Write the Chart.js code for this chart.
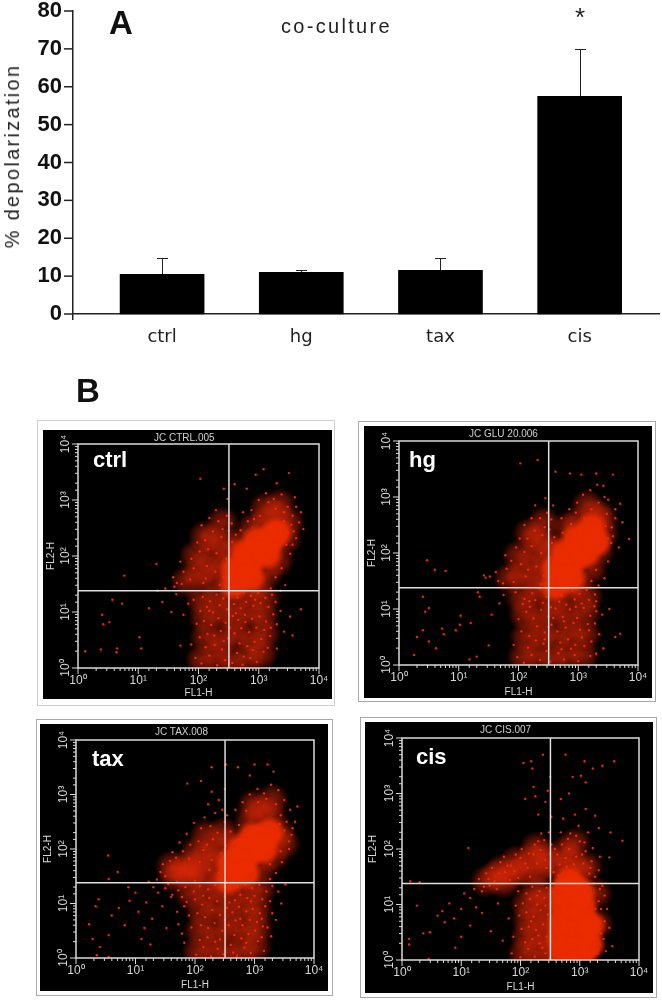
<!DOCTYPE html>
<html>
<head>
<meta charset="utf-8">
<script src="https://cdn.jsdelivr.net/npm/chart.js@4"></script>
<style>
  html, body { margin: 0; background: #fff; }
  #page { position: relative; width: 662px; height: 1001px; overflow: hidden; font-family: "Liberation Sans", sans-serif; }
  #page canvas, .txt, .frame { position: absolute; }
  .txt { white-space: nowrap; line-height: 1; }
  .frame { box-sizing: border-box; border: 1px solid #a8a8a8; }
</style>
</head>
<body>
<div id="page">
  <canvas id="barChart" width="662" height="400" style="left:0;top:0"></canvas>
  <div class="txt" style="left:109px;top:6px;font-size:33px;font-weight:bold;color:#111">A</div>
  <div class="txt" style="left:281px;top:16px;font-size:20px;letter-spacing:2.3px;color:#222">co-culture</div>
  <div class="txt" style="left:575px;top:4px;font-size:26px;color:#222">*</div>
  <div class="txt" style="left:76px;top:374px;font-size:33px;font-weight:bold;color:#111">B</div>
  <div class="txt" style="left:12px;top:156px;font-size:20px;letter-spacing:2.3px;color:#222;transform:translate(-50%,-50%) rotate(-90deg)">% depolarization</div>
</div>
<script>
// --- panel A ---
const categories = ['ctrl', 'hg', 'tax', 'cis'];
const depolarization = [10.5, 11, 11.5, 57.5];
const errorTop = [14.8, 11.5, 14.8, 70];
const yTicksA = [0, 10, 20, 30, 40, 50, 60, 70, 80];

// --- panel B, all pairs are [log10 FL1-H, log10 FL2-H] ---
const decadeLabels = { 1: '10⁰', 10: '10¹', 100: '10²', 1000: '10³', 10000: '10⁴' };
const gateFL1 = 320;
const gateFL2 = 24;

const ctrlCore = [[2.6,1.5],[2.7,1.68],[2.82,1.85],[2.92,2.0],[3.02,2.12],[3.12,2.22],[3.22,2.33],[3.3,2.42],[2.6,1.76],[2.78,2.04],[2.97,2.26],[3.14,2.04],[2.86,1.62]];
const ctrlHaze = [[2.05,0.15],[2.31,0.22],[2.55,0.12],[2.82,0.18],[3.05,0.25],[2.12,0.55],[2.38,0.5],[2.62,0.58],[2.88,0.5],[3.1,0.6],[2.1,0.9],[2.35,0.95],[2.6,0.88],[2.85,0.96],[3.08,0.92],[2.05,1.22],[2.32,1.25],[2.58,1.2],[2.85,1.28],[3.1,1.25],[1.8,1.55],[2.0,1.7],[2.2,1.6],[1.95,2.0],[2.2,1.95],[2.4,1.8],[2.25,2.3],[2.45,2.2],[2.4,2.6],[2.1,2.35],[2.52,1.5],[3.3,2.72],[3.5,2.6],[3.1,2.6],[2.9,2.5],[3.45,2.3],[3.1,2.85],[3.35,2.92],[2.72,2.25],[3.32,1.92],[2.58,2.02],[3.15,1.7],[2.95,1.5]];
const ctrlSpeck = [[2.05,0.08],[2.18,0.22],[2.31,0.05],[2.44,0.14],[2.12,0.37],[2.27,0.41],[2.39,0.33],[2.56,0.09],[2.64,0.27],[2.73,0.06],[2.86,0.18],[2.97,0.11],[3.08,0.29],[2.68,0.44],[2.81,0.39],[2.93,0.47],[3.04,0.52],[3.15,0.36],[2.02,0.55],[2.15,0.61],[2.26,0.58],[2.37,0.66],[2.49,0.53],[2.6,0.62],[2.71,0.71],[2.84,0.64],[2.96,0.72],[3.09,0.68],[3.19,0.57],[1.97,0.79],[2.09,0.84],[2.21,0.77],[2.33,0.89],[2.45,0.81],[2.57,0.93],[2.66,0.86],[2.77,0.95],[2.89,0.88],[3.01,0.92],[3.12,0.83],[3.24,0.96],[2.03,1.02],[2.14,1.09],[2.24,0.99],[2.35,1.12],[2.48,1.05],[2.59,1.14],[2.7,1.07],[2.79,1.18],[2.91,1.11],[3.03,1.16],[3.16,1.09],[1.92,1.22],[2.07,1.27],[2.19,1.19],[2.3,1.31],[2.41,1.24],[2.53,1.33],[2.65,1.26],[2.75,1.35],[2.87,1.29],[2.99,1.34],[3.11,1.25],[3.22,1.31],[1.45,1.42],[1.6,1.45],[1.72,1.5],[1.58,1.62],[1.86,1.58],[1.75,1.72],[1.92,1.78],[2.08,1.52],[2.14,1.82],[2.28,1.72],[2.42,1.62],[1.88,1.95],[2.02,2.08],[2.16,2.12],[2.3,2.05],[2.46,1.95],[2.11,2.28],[2.24,2.44],[2.38,2.34],[2.5,2.45],[2.33,2.62],[2.47,2.72],[2.55,2.58],[2.29,2.82],[2.48,3.02],[2.03,3.38],[2.42,3.2],[2.6,3.28],[2.74,2.78],[2.88,2.82],[3.0,3.0],[3.12,3.12],[3.25,3.02],[3.38,3.1],[3.48,2.88],[3.56,2.72],[3.67,2.6],[3.58,2.44],[3.7,2.78],[3.46,2.2],[3.52,2.04],[3.38,1.78],[3.44,1.48],[3.28,1.62],[3.2,1.42],[2.95,3.45],[3.08,3.55],[3.5,3.48],[2.8,3.2],[3.3,3.3],[3.6,3.05],[3.7,1.05],[3.52,0.92],[3.42,0.65],[3.3,0.35],[3.56,0.58],[0.4,0.95],[0.42,0.78],[0.52,0.82],[0.57,1.22],[0.73,1.15],[0.38,0.33],[0.65,0.35],[0.64,0.28],[1.02,0.55],[1.05,0.35],[1.18,1.07],[1.32,1.38],[1.4,1.18],[1.55,1.0],[1.63,1.32],[1.75,0.95],[1.83,1.15],[1.7,0.4],[0.77,1.65],[1.3,1.86],[0.12,0.3],[3.62,2.32],[3.74,2.48],[3.42,2.62],[3.28,2.84],[3.16,2.96],[3.02,2.72],[2.92,2.66],[3.42,2.78],[3.54,2.56],[3.62,2.88],[2.7,2.46],[2.82,2.62],[3.48,2.42],[3.56,2.2],[2.62,2.38],[1.7,1.9],[1.98,2.24],[2.05,2.55],[2.18,2.68],[2.4,2.48],[1.64,1.52],[2.35,1.48],[2.12,1.6],[2.5,1.72],[2.56,2.25],[3.36,1.38],[3.28,1.18],[3.36,1.02],[3.3,0.78],[1.88,0.42],[1.95,0.18],[2.42,0.48],[2.75,0.2],[2.9,0.32],[3.2,0.72],[2.52,0.72],[2.78,0.82],[2.18,1.02],[2.62,0.98],[2.94,1.22]];

const hgCore = [[2.62,1.42],[2.72,1.58],[2.82,1.75],[2.95,1.92],[3.05,2.08],[3.15,2.28],[3.22,2.45],[2.62,1.72],[2.78,2.0],[2.96,2.25],[3.12,2.0],[2.88,1.55],[3.3,2.2]];
const hgHaze = [[2.08,0.14],[2.33,0.2],[2.58,0.1],[2.82,0.2],[3.08,0.18],[2.12,0.5],[2.38,0.55],[2.62,0.5],[2.88,0.56],[3.12,0.55],[2.1,0.9],[2.35,0.85],[2.6,0.92],[2.85,0.88],[3.12,0.94],[2.05,1.2],[2.3,1.26],[2.58,1.18],[2.85,1.26],[3.15,1.22],[1.85,1.55],[2.05,1.62],[2.28,1.55],[2.0,1.95],[2.25,1.92],[2.45,1.78],[2.3,2.25],[2.48,2.15],[2.42,2.55],[2.18,2.35],[2.5,1.45],[3.3,2.7],[3.15,2.85],[3.42,2.35],[3.0,2.55],[2.82,2.45],[3.35,2.05],[3.22,1.72],[2.98,1.45],[3.4,2.62],[2.6,2.05]];
const hgSpeck = [[2.09,0.04],[2.22,0.18],[2.36,0.09],[2.47,0.25],[2.16,0.31],[2.29,0.44],[2.42,0.38],[2.53,0.06],[2.67,0.21],[2.76,0.1],[2.88,0.29],[3.0,0.07],[3.1,0.34],[3.2,0.16],[2.7,0.4],[2.83,0.46],[2.95,0.36],[3.06,0.49],[3.22,0.42],[2.05,0.6],[2.18,0.52],[2.31,0.69],[2.44,0.58],[2.55,0.72],[2.65,0.6],[2.79,0.67],[2.92,0.75],[3.03,0.63],[3.16,0.73],[2.0,0.82],[2.13,0.95],[2.25,0.83],[2.38,0.98],[2.5,0.87],[2.62,1.01],[2.74,0.86],[2.86,0.99],[2.98,0.84],[3.09,1.02],[3.2,0.88],[3.27,1.05],[2.07,1.09],[2.19,1.04],[2.28,1.16],[2.41,1.11],[2.54,1.03],[2.68,1.13],[2.8,1.08],[2.94,1.17],[3.06,1.1],[3.18,1.16],[1.95,1.3],[2.1,1.18],[2.23,1.28],[2.35,1.36],[2.47,1.22],[2.6,1.3],[2.72,1.24],[2.9,1.33],[3.02,1.27],[3.14,1.34],[3.28,1.26],[1.45,1.56],[1.42,1.6],[1.52,1.58],[1.62,1.66],[1.74,1.46],[1.8,1.72],[1.92,1.48],[1.88,1.86],[2.04,1.8],[2.16,1.7],[2.3,1.76],[2.42,1.6],[1.96,2.1],[2.1,2.02],[2.22,2.12],[2.38,2.0],[2.52,1.92],[2.15,2.26],[2.27,2.4],[2.4,2.32],[2.52,2.42],[2.36,2.62],[2.48,2.72],[2.55,2.6],[2.28,2.85],[2.45,2.98],[2.03,3.6],[2.32,3.66],[2.58,2.85],[2.72,2.62],[2.85,2.78],[2.98,2.9],[3.08,3.04],[3.2,3.12],[3.32,3.22],[3.42,3.2],[3.5,2.95],[3.62,2.78],[3.7,2.88],[3.74,2.55],[3.85,2.25],[3.68,2.1],[3.55,2.18],[3.5,1.85],[3.44,1.55],[3.3,1.7],[3.22,1.5],[2.62,3.45],[2.86,3.42],[3.05,3.4],[3.3,3.42],[3.58,3.4],[3.35,0.55],[3.4,0.9],[3.52,1.0],[3.62,0.5],[3.7,0.56],[3.3,0.2],[3.42,0.3],[0.25,0.18],[0.3,0.5],[0.4,0.62],[0.44,0.95],[0.5,1.02],[0.5,0.42],[0.62,0.3],[0.72,0.65],[0.75,0.55],[0.95,0.62],[1.02,0.72],[1.03,0.88],[1.2,0.75],[1.18,0.1],[1.3,0.15],[1.35,1.22],[1.32,1.3],[1.55,0.9],[1.68,1.1],[1.75,1.25],[1.5,0.35],[0.47,1.87],[0.6,1.7],[0.78,1.68],[0.4,1.22],[3.56,2.46],[3.62,2.62],[3.48,2.7],[3.34,2.9],[3.22,2.78],[3.1,2.62],[2.96,2.72],[3.46,2.48],[3.58,2.3],[3.44,3.0],[2.74,2.36],[2.88,2.52],[3.5,2.26],[3.42,2.08],[2.6,2.28],[1.78,1.96],[2.02,2.26],[2.1,2.5],[2.22,2.62],[2.44,2.46],[1.66,1.5],[2.38,1.44],[2.12,1.58],[2.5,1.68],[2.56,2.18],[3.34,1.42],[3.3,1.14],[3.3,0.96],[3.28,0.74],[1.92,0.36],[1.98,0.14],[2.44,0.46],[2.72,0.28],[2.94,0.18],[3.18,0.62],[2.5,0.68],[2.76,0.78],[2.18,1.14],[2.58,0.84],[2.96,1.04]];

const taxCore = [[2.58,1.45],[2.68,1.62],[2.8,1.78],[2.92,1.95],[3.02,2.08],[3.12,2.2],[3.25,2.3],[2.6,1.75],[2.78,2.0],[2.96,2.22],[3.15,2.0],[2.85,1.55]];
const taxHaze = [[2.05,0.12],[2.3,0.16],[2.55,0.1],[2.8,0.14],[3.02,0.2],[2.08,0.5],[2.35,0.48],[2.6,0.52],[2.85,0.5],[3.05,0.55],[2.1,0.85],[2.35,0.9],[2.58,0.82],[2.85,0.9],[3.05,0.88],[1.92,1.18],[2.18,1.2],[2.42,1.28],[2.62,1.15],[2.88,1.24],[3.1,1.25],[1.65,1.48],[1.78,1.58],[1.92,1.52],[1.85,1.7],[2.02,1.66],[2.12,1.5],[1.6,1.68],[2.2,1.85],[2.02,1.95],[2.38,1.7],[2.35,2.02],[2.18,2.25],[2.48,2.3],[2.45,1.45],[3.42,2.3],[3.28,2.6],[3.1,2.7],[2.92,2.5],[3.5,2.1],[3.32,1.88],[3.12,1.66],[2.98,2.8],[2.62,2.1],[3.3,2.9]];
const taxSpeck = [[2.02,0.06],[2.14,0.2],[2.27,0.03],[2.38,0.17],[2.08,0.33],[2.21,0.38],[2.34,0.3],[2.48,0.07],[2.6,0.24],[2.71,0.04],[2.83,0.19],[2.94,0.09],[3.06,0.31],[3.16,0.13],[2.66,0.42],[2.78,0.36],[2.9,0.44],[3.01,0.5],[3.12,0.38],[1.94,0.56],[2.1,0.6],[2.22,0.55],[2.33,0.64],[2.46,0.5],[2.57,0.6],[2.68,0.69],[2.8,0.6],[2.92,0.7],[3.04,0.66],[3.14,0.58],[1.9,0.78],[2.04,0.82],[2.17,0.75],[2.29,0.88],[2.42,0.79],[2.54,0.92],[2.63,0.84],[2.74,0.94],[2.86,0.86],[2.97,0.9],[3.09,0.82],[3.18,0.95],[1.86,1.03],[2.0,1.08],[2.12,0.98],[2.24,1.1],[2.37,1.04],[2.5,1.13],[2.67,1.06],[2.76,1.16],[2.88,1.1],[3.0,1.14],[3.13,1.08],[1.72,1.24],[1.84,1.3],[1.98,1.22],[2.08,1.32],[2.22,1.26],[2.34,1.34],[2.5,1.24],[2.72,1.3],[2.84,1.35],[2.96,1.28],[3.08,1.34],[3.2,1.22],[1.36,1.44],[1.42,1.58],[1.5,1.5],[1.55,1.36],[1.58,1.78],[1.68,1.84],[1.7,1.4],[1.8,1.96],[1.9,1.82],[2.0,1.42],[2.08,1.76],[2.14,1.98],[2.24,1.62],[2.28,1.8],[2.4,1.56],[1.92,2.08],[2.06,2.14],[2.2,2.08],[2.3,2.18],[2.44,1.92],[2.52,2.06],[2.1,2.38],[2.26,2.42],[2.38,2.3],[2.5,2.5],[2.34,2.66],[2.46,2.72],[2.54,2.62],[2.22,2.82],[2.4,2.9],[1.87,3.2],[2.1,3.25],[2.28,3.05],[2.5,3.1],[2.28,3.5],[2.52,3.55],[2.68,2.72],[2.8,2.86],[2.92,3.0],[3.05,3.1],[3.16,3.02],[3.28,3.18],[3.4,3.08],[3.5,2.9],[3.6,2.72],[3.68,2.5],[3.72,2.78],[3.62,2.26],[3.58,2.0],[3.46,1.76],[3.36,1.56],[3.26,1.45],[2.72,3.5],[2.92,3.35],[3.0,3.55],[3.22,3.55],[3.32,3.42],[3.45,1.0],[3.36,0.7],[3.28,0.4],[3.4,1.22],[3.52,1.35],[0.33,0.95],[0.38,1.08],[0.22,0.62],[0.28,0.35],[0.4,0.2],[0.55,0.42],[0.6,0.78],[0.72,0.92],[0.82,0.6],[0.9,1.05],[1.05,0.85],[1.1,0.35],[1.18,1.02],[1.28,0.72],[1.38,1.2],[1.45,0.95],[1.52,0.55],[1.6,1.12],[1.7,0.85],[1.78,0.45],[1.82,0.95],[1.3,1.3],[1.22,1.4],[1.15,0.55],[0.55,1.45],[0.7,1.58],[0.54,1.88],[0.88,1.3],[1.0,1.2],[0.35,0.05],[0.55,0.02],[1.25,0.25],[3.54,2.5],[3.64,2.38],[3.44,2.62],[3.36,2.82],[3.2,2.92],[3.06,2.86],[2.86,2.7],[3.5,2.34],[3.42,2.46],[3.58,2.14],[2.74,2.44],[2.6,2.32],[3.44,1.96],[3.26,1.72],[1.46,1.72],[1.62,1.94],[1.74,2.12],[1.86,2.28],[1.98,2.48],[2.16,2.58],[1.5,1.28],[1.62,1.16],[1.78,1.12],[2.44,1.44],[2.56,1.96],[3.3,1.32],[3.26,1.04],[3.3,0.82],[3.22,0.56],[1.72,0.62],[1.82,0.28],[2.42,0.34],[2.64,0.1],[2.86,0.28],[3.12,0.72],[2.5,0.7],[2.76,0.72],[2.14,1.14],[2.58,1.02],[2.94,1.04]];

const cisCore = [[2.72,0.12],[2.9,0.1],[3.05,0.15],[2.68,0.38],[2.86,0.42],[3.04,0.4],[2.7,0.68],[2.88,0.7],[3.06,0.66],[2.72,0.98],[2.9,1.0],[3.05,0.95],[2.72,1.24],[2.9,1.28],[3.02,1.22],[3.17,0.28],[3.18,0.62],[2.82,1.42]];
const cisHaze = [[2.05,0.12],[2.28,0.15],[2.5,0.1],[2.1,0.42],[2.32,0.46],[2.52,0.38],[2.12,0.72],[2.35,0.76],[2.55,0.7],[2.1,1.0],[2.35,1.05],[2.52,1.12],[2.25,1.25],[1.42,1.42],[1.58,1.52],[1.72,1.4],[1.68,1.62],[1.88,1.55],[2.05,1.62],[1.92,1.78],[2.18,1.82],[2.32,1.58],[2.4,1.88],[2.26,2.02],[2.5,1.75],[2.72,1.62],[2.85,1.8],[3.0,1.6],[2.74,1.95],[2.92,2.1],[3.12,1.68],[3.28,1.2],[3.3,0.65]];
const cisSpeck = [[2.0,0.05],[2.13,0.2],[2.24,0.06],[2.37,0.22],[2.49,0.04],[2.08,0.32],[2.2,0.38],[2.32,0.3],[2.44,0.42],[2.56,0.2],[2.02,0.56],[2.14,0.6],[2.26,0.54],[2.38,0.64],[2.5,0.52],[2.58,0.66],[1.98,0.8],[2.1,0.86],[2.22,0.78],[2.34,0.9],[2.46,0.82],[2.56,0.94],[2.04,1.02],[2.16,1.1],[2.28,1.0],[2.4,1.12],[2.52,1.04],[1.96,1.24],[2.1,1.2],[2.2,1.32],[2.32,1.24],[2.44,1.3],[2.55,1.22],[3.22,0.12],[3.3,0.3],[3.36,0.48],[3.28,0.76],[3.36,0.92],[3.42,0.7],[3.32,1.06],[3.34,1.28],[3.42,1.16],[3.5,0.58],[3.55,0.25],[3.44,0.16],[3.38,1.34],[1.22,1.28],[1.3,1.46],[1.35,1.24],[1.42,1.56],[1.48,1.34],[1.52,1.66],[1.6,1.28],[1.66,1.76],[1.74,1.58],[1.72,1.86],[1.82,1.44],[1.84,1.7],[1.92,1.9],[1.96,1.48],[2.02,2.0],[2.08,1.74],[2.14,1.92],[2.16,1.5],[2.24,2.08],[2.28,1.74],[2.34,1.98],[2.4,2.16],[2.44,1.66],[2.5,1.92],[2.52,2.08],[2.35,2.28],[2.48,2.3],[2.56,1.58],[2.64,1.52],[2.66,1.72],[2.62,1.9],[2.7,2.08],[2.78,1.68],[2.82,2.0],[2.88,1.56],[2.94,1.86],[3.0,2.14],[3.06,1.74],[3.1,1.96],[3.16,1.56],[3.2,1.78],[3.26,1.5],[3.32,1.62],[2.68,2.3],[2.84,2.28],[2.98,2.42],[3.14,2.3],[2.72,2.55],[2.92,2.62],[3.1,2.72],[3.26,2.6],[3.32,2.38],[3.52,2.3],[3.72,2.15],[3.5,1.85],[2.68,2.9],[2.82,3.0],[3.1,3.2],[2.88,3.3],[3.02,3.32],[3.22,3.45],[3.38,3.5],[3.58,3.58],[2.76,3.7],[3.08,3.58],[2.52,2.58],[2.42,2.85],[2.3,2.62],[2.25,2.95],[2.22,3.12],[2.05,3.55],[2.18,3.58],[2.38,3.7],[2.08,2.9],[2.2,3.45],[2.5,3.3],[2.46,3.05],[0.25,0.98],[0.36,0.48],[0.47,0.5],[0.6,0.8],[0.68,0.88],[0.72,0.68],[0.8,1.02],[0.88,0.75],[1.0,0.92],[1.05,1.2],[1.15,0.62],[1.25,0.95],[1.35,0.85],[1.5,0.52],[1.62,1.02],[1.7,0.35],[1.8,0.75],[0.12,0.28],[0.12,0.38],[0.45,0.02],[1.0,0.42],[0.9,0.22],[1.12,2.02],[0.14,1.42],[0.3,1.4],[1.85,0.12],[1.15,1.12],[3.24,0.44],[3.26,0.92],[3.24,1.38],[3.46,0.92],[3.3,0.12],[3.4,0.38],[1.38,1.32],[1.46,1.46],[1.56,1.42],[1.64,1.56],[1.78,1.7],[1.9,1.6],[2.0,1.84],[2.12,1.66],[2.22,1.9],[2.3,2.14],[2.42,1.8],[2.58,2.0],[2.76,1.84],[2.9,1.72],[3.04,1.9],[3.18,1.66],[2.8,2.18],[2.94,2.24],[3.08,2.12],[3.22,2.02],[3.34,1.86],[1.88,0.42],[1.92,0.98],[2.42,0.12],[2.3,0.44],[2.18,0.7],[2.42,0.98],[2.28,1.16],[2.52,0.78],[2.58,0.3]];

const panelLayout = [
  { id: 'ctrl', title: 'JC CTRL.005', label: 'ctrl', core: ctrlCore, haze: ctrlHaze, speck: ctrlSpeck,
    black: [43, 430, 289, 269], plot: [78, 444, 241, 224], frame: [37, 420, 298, 286], frameColor: '#cfcfcf', titleX: 154, labelAt: [93, 449] },
  { id: 'hg', title: 'JC GLU 20.006', label: 'hg', core: hgCore, haze: hgHaze, speck: hgSpeck,
    black: [364, 426, 288, 272], plot: [399, 441, 239, 224], frame: [358, 421, 298, 281], frameColor: '#a8a8a8', titleX: 469, labelAt: [409, 449] },
  { id: 'tax', title: 'JC TAX.008', label: 'tax', core: taxCore, haze: taxHaze, speck: taxSpeck,
    black: [40, 724, 288, 267], plot: [76, 740, 238, 218], frame: [36, 719, 297, 277], frameColor: '#a8a8a8', titleX: 155, labelAt: [92, 748] },
  { id: 'cis', title: 'JC CIS.007', label: 'cis', core: cisCore, haze: cisHaze, speck: cisSpeck,
    black: [365, 722, 288, 271], plot: [402, 738, 237, 222], frame: [360, 717, 297, 281], frameColor: '#a8a8a8', titleX: 480, labelAt: [416, 746] }
];

const fromLog = pairs => pairs.map(p => ({ x: 10 ** p[0], y: 10 ** p[1] }));

// soft round point sprite, so that the dense regions have no hard disc edges
function softDot(radius, stops) {
  const c = document.createElement('canvas');
  c.width = c.height = radius * 2;
  const g = c.getContext('2d');
  const grad = g.createRadialGradient(radius, radius, 0, radius, radius, radius);
  stops.forEach(s => grad.addColorStop(s[0], s[1]));
  g.fillStyle = grad;
  g.fillRect(0, 0, radius * 2, radius * 2);
  return c;
}
const hazeDot = softDot(17, [[0, 'rgba(225,42,10,0.6)'], [0.55, 'rgba(225,42,10,0.36)'], [1, 'rgba(225,42,10,0)']]);
const coreDot = softDot(17, [[0, 'rgba(234,44,0,1)'], [0.6, 'rgba(234,44,0,0.95)'], [1, 'rgba(234,44,0,0)']]);

// error bars: only the upper half, like the figure
const errorBarPlugin = {
  id: 'errorBars',
  afterDatasetsDraw(chart) {
    const { ctx, scales } = chart;
    ctx.save();
    ctx.strokeStyle = '#222';
    ctx.lineWidth = 1;
    errorTop.forEach((top, i) => {
      const px = Math.round(scales.x.getPixelForValue(i)) + 0.5;
      const base = scales.y.getPixelForValue(depolarization[i]);
      const end = Math.round(scales.y.getPixelForValue(top)) + 0.5;
      ctx.beginPath();
      ctx.moveTo(px, base);
      ctx.lineTo(px, end);
      ctx.moveTo(px - 5.5, end);
      ctx.lineTo(px + 5.5, end);
      ctx.stroke();
    });
    ctx.restore();
  }
};

new Chart(document.getElementById('barChart'), {
  type: 'bar',
  data: {
    datasets: [{
      data: depolarization.map((v, i) => ({ x: i, y: v })),
      backgroundColor: '#000',
      barThickness: 84
    }]
  },
  options: {
    responsive: false,
    animation: false,
    layout: { padding: { top: 11, right: 3, bottom: 81, left: 0 } },
    plugins: { legend: { display: false }, tooltip: { enabled: false } },
    scales: {
      x: {
        type: 'linear',
        offset: false,
        min: -0.64,
        max: 3.57,
        position: { y: 0 },
        afterBuildTicks: s => { s.ticks = categories.map((_, i) => ({ value: i })); },
        afterFit: s => { s.paddingLeft = 0; s.paddingRight = 0; },
        grid: { display: false, drawTicks: false },
        border: { color: '#222', width: 1.5 },
        ticks: {
          callback: v => categories[v],
          padding: 13,
          color: '#222',
          maxRotation: 0,
          font: { family: 'DejaVu Sans', size: 18 }
        }
      },
      y: {
        min: -1.32,
        max: 80,
        afterBuildTicks: s => { s.ticks = yTicksA.map(v => ({ value: v })); },
        afterFit: s => { s.width = 73; s.paddingTop = 0; s.paddingBottom = 0; },
        grid: { display: false, drawTicks: false },
        border: { color: '#222', width: 1.5 },
        ticks: {
          color: '#111',
          padding: 11,
          autoSkip: false,
          font: { family: 'Liberation Sans', size: 22, weight: 'bold' }
        }
      }
    }
  },
  plugins: [errorBarPlugin, {
    id: 'yTickMarks',
    afterDraw(chart) {
      const { ctx, scales } = chart;
      ctx.save();
      ctx.strokeStyle = '#222';
      ctx.lineWidth = 1.5;
      yTicksA.forEach(v => {
        const py = scales.y.getPixelForValue(v);
        ctx.beginPath();
        ctx.moveTo(scales.y.right - 9, py);
        ctx.lineTo(scales.y.right, py);
        ctx.stroke();
      });
      ctx.restore();
    }
  }]
});

// white box and the log tick marks of a dot plot
const plotFramePlugin = {
  id: 'plotFrame',
  afterDraw(chart) {
    const { ctx, chartArea: a, scales } = chart;
    ctx.save();
    ctx.strokeStyle = '#dcdcdc';
    ctx.lineWidth = 1.5;
    ctx.strokeRect(a.left, a.top, a.width, a.height);
    ctx.lineWidth = 1;
    scales.x.ticks.forEach(t => {
      const px = scales.x.getPixelForValue(t.value);
      ctx.beginPath();
      ctx.moveTo(px, a.bottom);
      ctx.lineTo(px, a.bottom + (decadeLabels[t.value] ? 6 : 3));
      ctx.stroke();
    });
    scales.y.ticks.forEach(t => {
      const py = scales.y.getPixelForValue(t.value);
      ctx.beginPath();
      ctx.moveTo(a.left, py);
      ctx.lineTo(a.left - (decadeLabels[t.value] ? 6 : 3), py);
      ctx.stroke();
    });
    ctx.restore();
  }
};

const page = document.getElementById('page');

function addText(text, left, top, css) {
  const el = document.createElement('div');
  el.className = 'txt';
  el.textContent = text;
  el.style.cssText = `left:${left}px;top:${top}px;${css}`;
  page.appendChild(el);
}

panelLayout.forEach(p => {
  const [bx, by, bw, bh] = p.black;
  const [px, py, pw, ph] = p.plot;
  const [fx, fy, fw, fh] = p.frame;

  const frame = document.createElement('div');
  frame.className = 'frame';
  frame.style.cssText = `left:${fx}px;top:${fy}px;width:${fw}px;height:${fh}px;border-color:${p.frameColor}`;
  page.appendChild(frame);

  const canvas = document.createElement('canvas');
  canvas.width = bw;
  canvas.height = bh;
  canvas.style.left = bx + 'px';
  canvas.style.top = by + 'px';
  canvas.style.background = '#000';
  page.appendChild(canvas);

  const tickFont = { family: 'Liberation Sans', size: 12 };
  new Chart(canvas, {
    type: 'scatter',
    data: {
      datasets: [
        { data: [{ x: gateFL1, y: 1 }, { x: gateFL1, y: 10000 }], showLine: true, borderColor: '#e0e0e0', borderWidth: 1.5, pointRadius: 0 },
        { data: [{ x: 1, y: gateFL2 }, { x: 10000, y: gateFL2 }], showLine: true, borderColor: '#e0e0e0', borderWidth: 1.5, pointRadius: 0 },
        { data: fromLog(p.speck), backgroundColor: '#e82b08', pointRadius: 1.2, pointBorderWidth: 0 },
        // sprites draw at their own size, the small radius keeps the layout from reserving room for them
        { data: fromLog(p.core), pointStyle: coreDot, pointRadius: 1 },
        { data: fromLog(p.haze), pointStyle: hazeDot, pointRadius: 1 }
      ]
    },
    options: {
      responsive: false,
      animation: false,
      layout: { padding: { top: py - by, right: bx + bw - px - pw, bottom: 0, left: 0 } },
      plugins: { legend: { display: false }, tooltip: { enabled: false } },
      scales: {
        x: {
          type: 'logarithmic',
          min: 1,
          max: 10000,
          afterFit: s => { s.height = by + bh - py - ph; s.paddingLeft = 0; s.paddingRight = 0; },
          grid: { display: false, drawTicks: false },
          border: { display: false },
          ticks: {
            color: '#d8d8d8',
            autoSkip: false,
            maxRotation: 0,
            padding: 5,
            font: tickFont,
            callback: v => decadeLabels[v] || ''
          },
          title: { display: true, text: 'FL1-H', color: '#d8d8d8', padding: 0, font: { family: 'Liberation Sans', size: 10 } }
        },
        y: {
          type: 'logarithmic',
          min: 1,
          max: 10000,
          afterFit: s => { s.width = px - bx; s.paddingTop = 0; s.paddingBottom = 0; },
          grid: { display: false, drawTicks: false },
          border: { display: false },
          ticks: {
            color: '#d8d8d8',
            autoSkip: false,
            minRotation: 90,
            maxRotation: 90,
            crossAlign: 'center',
            padding: 3,
            font: tickFont,
            callback: v => decadeLabels[v] || ''
          },
          title: { display: true, text: 'FL2-H', color: '#d8d8d8', padding: { top: 2, bottom: 0 }, font: { family: 'Liberation Sans', size: 10 } }
        }
      }
    },
    plugins: [plotFramePlugin]
  });

  addText(p.title, p.titleX, by + 3, 'font-size:10px;color:#cfcfcf');
  addText(p.label, p.labelAt[0], p.labelAt[1], 'font-size:22px;font-weight:bold;color:#fff');
});
</script>
</body>
</html>
